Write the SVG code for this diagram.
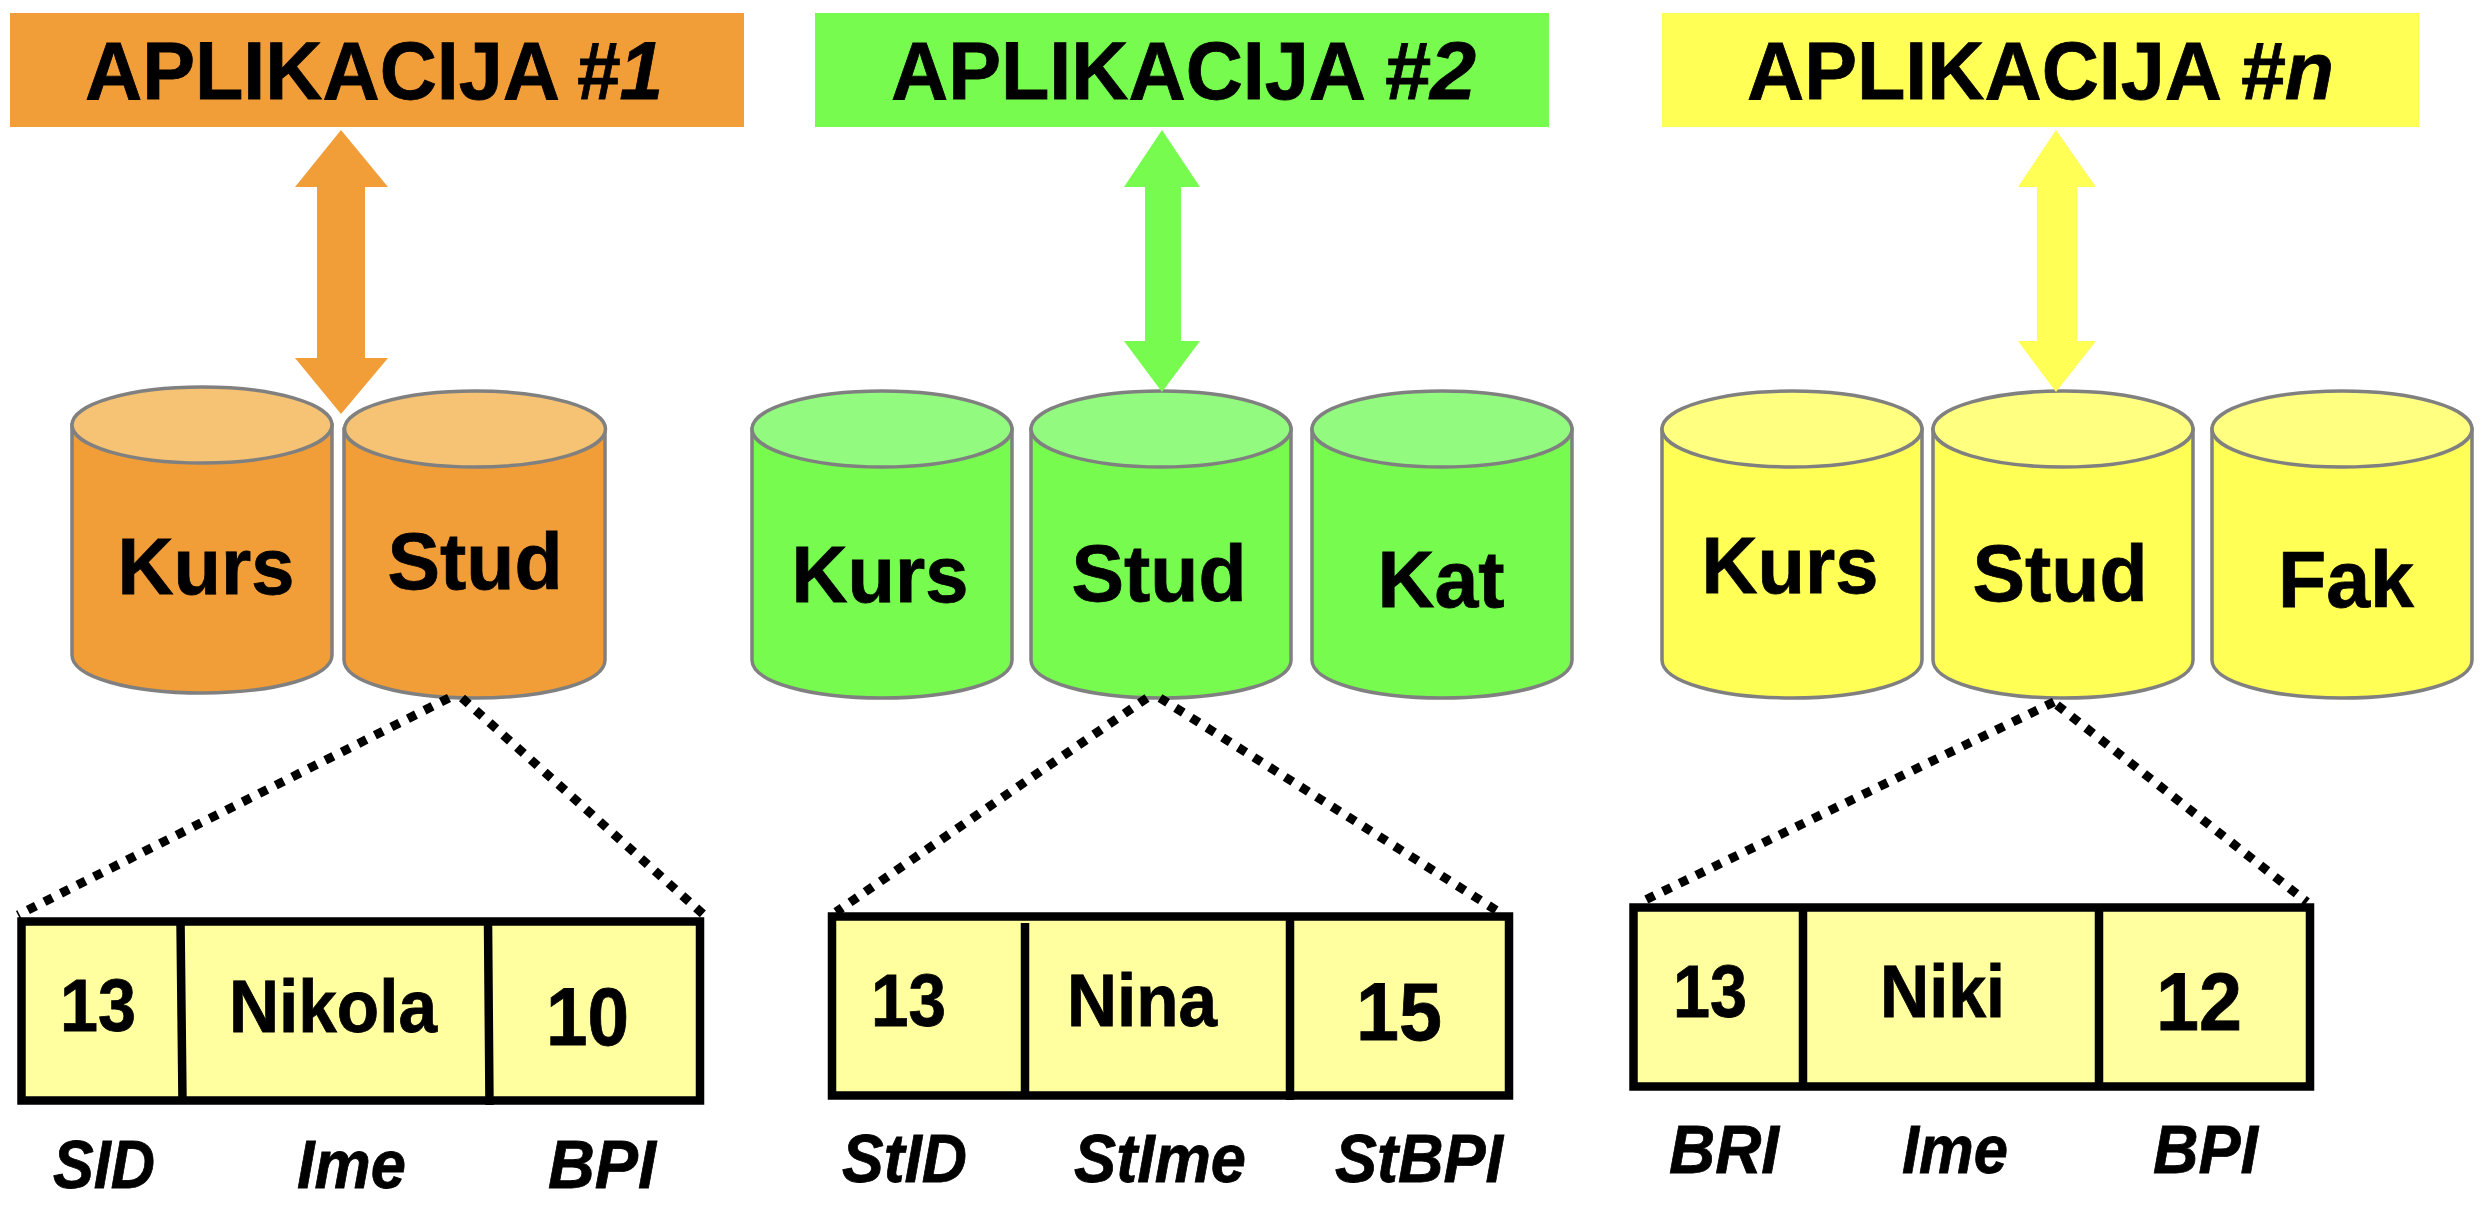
<svg xmlns="http://www.w3.org/2000/svg" width="2486" height="1208" viewBox="0 0 2486 1208">
<style>
text{font-family:"Liberation Sans",Arial,sans-serif;font-weight:bold;fill:#000;stroke:#000;stroke-width:.8}
.title{font-size:82px}
.it{font-style:italic}
.cyl{font-size:80px;text-anchor:middle}
.val{font-size:74px}
.big{font-size:82px}
.lab{font-size:68px;font-style:italic}
.side{stroke:#808080;stroke-width:3.5}
.o{fill:#F19D38}.ot{fill:#F5C373}
.g{fill:#76FB4E}.gt{fill:#92FB7F}
.y{fill:#FFFF55}.yt{fill:#FFFF80}
.row{fill:#FFFF9F;stroke:#000;stroke-width:8.500}
.div{stroke:#000;stroke-width:8.500;fill:none}
.dot{stroke:#000;stroke-width:9;stroke-dasharray:9 9.500;fill:none}
</style>
<rect width="2486" height="1208" fill="#fff"/>

<g id="app1"><rect class="o" x="10" y="13" width="734" height="114"/><text class="title" x="85" y="99" textLength="475" lengthAdjust="spacingAndGlyphs">APLIKACIJA</text><text class="title it" x="576" y="99" textLength="87" lengthAdjust="spacingAndGlyphs">#1</text></g>
<g id="app2"><rect class="g" x="815" y="13" width="734" height="114"/><text class="title" x="891" y="99" textLength="475" lengthAdjust="spacingAndGlyphs">APLIKACIJA</text><text class="title it" x="1384" y="99" textLength="92" lengthAdjust="spacingAndGlyphs">#2</text></g>
<g id="appn"><rect class="y" x="1662" y="13" width="757" height="114"/><text class="title" x="1747" y="99" textLength="475" lengthAdjust="spacingAndGlyphs">APLIKACIJA</text><text class="title it" x="2240" y="99" textLength="94" lengthAdjust="spacingAndGlyphs">#n</text></g>

<g id="db1-kurs"><path class="o side" d="M72 425V655C72 677 130 693 202 693S332 677 332 655V425Z"/><ellipse class="ot side" cx="202" cy="425" rx="130" ry="38"/><text class="cyl" x="206" y="594" textLength="177" lengthAdjust="spacingAndGlyphs">Kurs</text></g>
<g id="db1-stud"><path class="o side" d="M344 429V660C344 682 402 698 475 698S605 682 605 660V429Z"/><ellipse class="ot side" cx="475" cy="429" rx="130.500" ry="38"/><text class="cyl" x="475" y="589" textLength="175" lengthAdjust="spacingAndGlyphs">Stud</text></g>

<g id="db2-kurs"><path class="g side" d="M752 429V660C752 682 810 698 882 698S1012 682 1012 660V429Z"/><ellipse class="gt side" cx="882" cy="429" rx="130" ry="38"/><text class="cyl" x="880" y="602" textLength="177" lengthAdjust="spacingAndGlyphs">Kurs</text></g>
<g id="db2-stud"><path class="g side" d="M1031 429V660C1031 682 1089 698 1161 698S1291 682 1291 660V429Z"/><ellipse class="gt side" cx="1161" cy="429" rx="130" ry="38"/><text class="cyl" x="1159" y="601" textLength="175" lengthAdjust="spacingAndGlyphs">Stud</text></g>
<g id="db2-kat"><path class="g side" d="M1312 429V660C1312 682 1370 698 1442 698S1572 682 1572 660V429Z"/><ellipse class="gt side" cx="1442" cy="429" rx="130" ry="38"/><text class="cyl" x="1441" y="607" textLength="127" lengthAdjust="spacingAndGlyphs">Kat</text></g>

<g id="dbn-kurs"><path class="y side" d="M1662 429V660C1662 682 1720 698 1792 698S1922 682 1922 660V429Z"/><ellipse class="yt side" cx="1792" cy="429" rx="130" ry="38"/><text class="cyl" x="1790" y="593" textLength="177" lengthAdjust="spacingAndGlyphs">Kurs</text></g>
<g id="dbn-stud"><path class="y side" d="M1933 429V660C1933 682 1991 698 2063 698S2193 682 2193 660V429Z"/><ellipse class="yt side" cx="2063" cy="429" rx="130" ry="38"/><text class="cyl" x="2060" y="601" textLength="175" lengthAdjust="spacingAndGlyphs">Stud</text></g>
<g id="dbn-fak"><path class="y side" d="M2212 429V660C2212 682 2270 698 2342 698S2472 682 2472 660V429Z"/><ellipse class="yt side" cx="2342" cy="429" rx="130" ry="38"/><text class="cyl" x="2346" y="607" textLength="136" lengthAdjust="spacingAndGlyphs">Fak</text></g>

<g id="connectors">
<polygon class="o" points="341,130 388,187 365,187 365,358 388,358 341,414 295,358 317,358 317,187 295,187"/>
<polygon class="g" points="1162,130 1200,187 1181,187 1181,341 1200,341 1162,392 1124,341 1145,341 1145,187 1124,187"/>
<polygon class="y" points="2056,130 2096,187 2077,187 2077,341 2096,341 2056,392 2018,341 2037,341 2037,187 2018,187"/>
<path class="dot" d="M449 698L18 915M462 698L704 915"/>
<path class="dot" d="M1147 698L836 912M1160 698L1499 912"/>
<path class="dot" d="M2054 702L1641 902M2057 705L2307 902"/>
</g>

<g id="table1">
<rect class="row" x="21.500" y="921.500" width="678.500" height="179"/>
<path class="div" d="M180.500 921L182.500 1101M488 921L489.500 1105"/>
<text class="val" x="60" y="1031" textLength="76" lengthAdjust="spacingAndGlyphs">13</text>
<text class="val" x="229" y="1032" textLength="208" lengthAdjust="spacingAndGlyphs">Nikola</text>
<text class="big" x="546" y="1045" textLength="83" lengthAdjust="spacingAndGlyphs">10</text>
<text class="lab" x="53" y="1188" textLength="102" lengthAdjust="spacingAndGlyphs">SID</text>
<text class="lab" x="297" y="1188" textLength="109" lengthAdjust="spacingAndGlyphs">Ime</text>
<text class="lab" x="548" y="1188" textLength="108" lengthAdjust="spacingAndGlyphs">BPI</text>
</g>
<g id="table2">
<rect class="row" x="832" y="916.500" width="677" height="179"/>
<path class="div" d="M1025 923V1096M1290 916V1100"/>
<text class="val" x="871" y="1026" textLength="75" lengthAdjust="spacingAndGlyphs">13</text>
<text class="val" x="1067" y="1026" textLength="150" lengthAdjust="spacingAndGlyphs">Nina</text>
<text class="big" x="1356" y="1040" textLength="86" lengthAdjust="spacingAndGlyphs">15</text>
<text class="lab" x="842" y="1182" textLength="125" lengthAdjust="spacingAndGlyphs">StID</text>
<text class="lab" x="1074" y="1182" textLength="172" lengthAdjust="spacingAndGlyphs">StIme</text>
<text class="lab" x="1335" y="1182" textLength="168" lengthAdjust="spacingAndGlyphs">StBPI</text>
</g>
<g id="tablen">
<rect class="row" x="1633.500" y="907.500" width="676.500" height="179"/>
<path class="div" d="M1803 907V1087M2099 907V1087"/>
<text class="val" x="1673" y="1017" textLength="74" lengthAdjust="spacingAndGlyphs">13</text>
<text class="val" x="1880" y="1017" textLength="125" lengthAdjust="spacingAndGlyphs">Niki</text>
<text class="big" x="2156" y="1030" textLength="86" lengthAdjust="spacingAndGlyphs">12</text>
<text class="lab" x="1669" y="1173" textLength="110" lengthAdjust="spacingAndGlyphs">BRI</text>
<text class="lab" x="1902" y="1173" textLength="106" lengthAdjust="spacingAndGlyphs">Ime</text>
<text class="lab" x="2153" y="1173" textLength="105" lengthAdjust="spacingAndGlyphs">BPI</text>
</g>
</svg>
